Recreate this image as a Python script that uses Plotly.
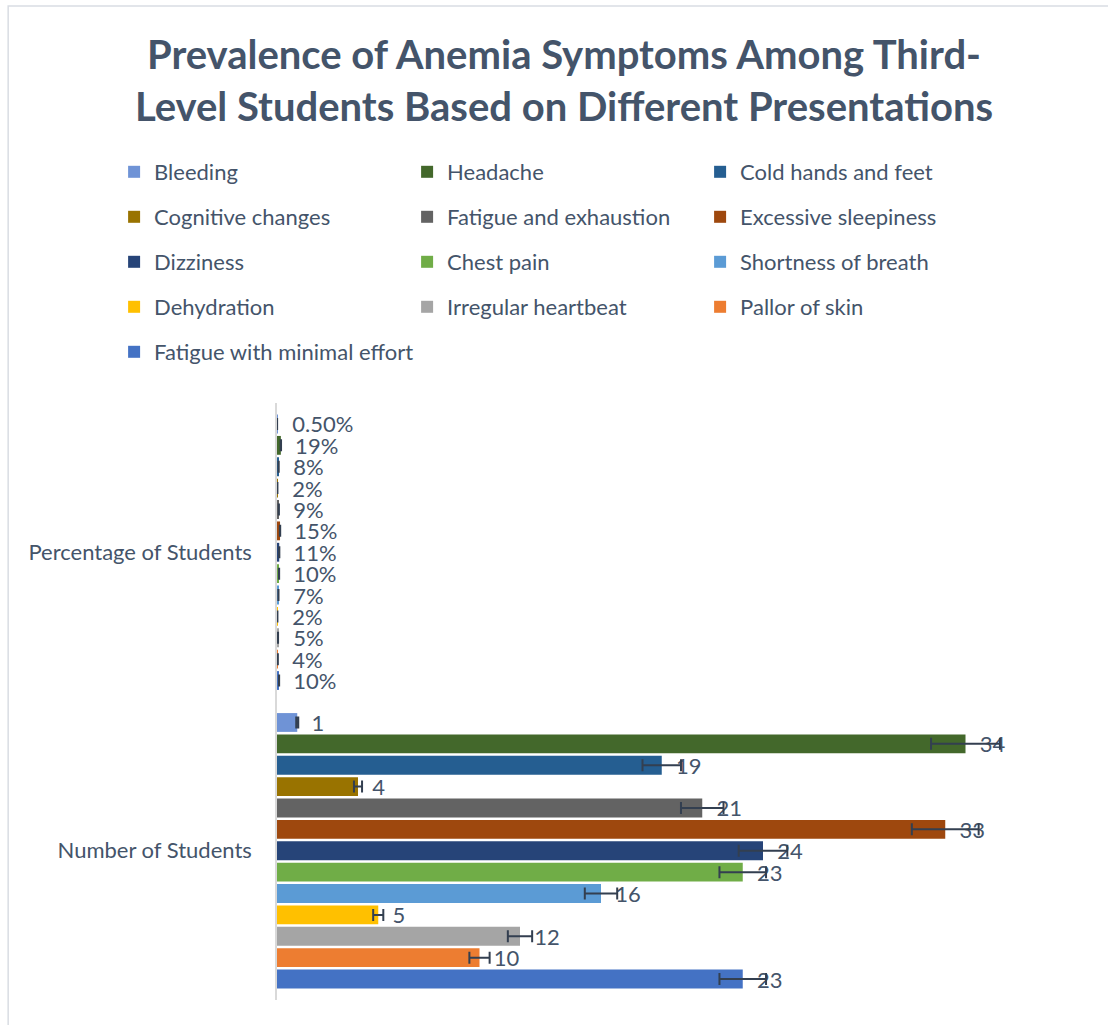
import plotly.graph_objects as go

# Symptom series, in legend order
symptoms = [
    "Bleeding", "Headache", "Cold hands and feet",
    "Cognitive changes", "Fatigue and exhaustion", "Excessive sleepiness",
    "Dizziness", "Chest pain", "Shortness of breath",
    "Dehydration", "Irregular heartbeat", "Pallor of skin",
    "Fatigue with minimal effort",
]
categories = ["Percentage of Students", "Number of Students"]
percentages = [0.005, 0.19, 0.08, 0.02, 0.09, 0.15, 0.11, 0.10, 0.07, 0.02, 0.05, 0.04, 0.10]
counts = [1, 34, 19, 4, 21, 33, 24, 23, 16, 5, 12, 10, 23]
colors = [
    "#6F93D6", "#43682B", "#255E91",
    "#997300", "#636363", "#9E480E",
    "#264478", "#70AD47", "#5B9BD5",
    "#FFC000", "#A5A5A5", "#ED7D31",
    "#4472C4",
]

TEXT = "#44546A"
FONT = "Lato"
FS = 22

W, H = 1108, 1025
L, R, T, B = 277, 20.5, 403, 25
pw, ph = W - L - R, H - T - B


def px_x(x):
    return (x - L) / pw


def px_y(y):
    return (H - B - y) / ph


def fmt_pct(v):
    p = v * 100
    return f"{p:.0f}%" if abs(p - round(p)) < 1e-9 else f"{p:.2f}%"


pad = "\u00a0\u00a0"
fig = go.Figure()
for i, (name, pct, cnt, col) in enumerate(zip(symptoms, percentages, counts, colors)):
    row = i // 3
    fig.add_trace(go.Bar(
        name=name,
        orientation="h",
        y=categories,
        x=[pct, cnt],
        text=[fmt_pct(pct), str(cnt)],
        texttemplate=pad + "%{text}",
        textposition="outside",
        constraintext="none",
        cliponaxis=False,
        textfont=dict(family=FONT, size=FS, color=TEXT),
        marker=dict(color=col, line=dict(width=0)),
        error_x=dict(type="percent", value=5, color="#333F50", thickness=2, width=6),
        legend="legend" if row == 0 else f"legend{row + 1}",
        hoverinfo="skip",
    ))

row_centers = [172, 217, 262, 307, 352]
legend_common = dict(
    orientation="h",
    xanchor="left",
    yanchor="middle",
    entrywidthmode="pixels",
    font=dict(family=FONT, size=FS, color=TEXT),
    bgcolor="rgba(0,0,0,0)",
    borderwidth=0,
    itemclick=False,
    itemdoubleclick=False,
)
legends = {}
for r, yc in enumerate(row_centers):
    key = "legend" if r == 0 else f"legend{r + 1}"
    # the last row holds a single, longer entry
    ew = 248 if r < len(row_centers) - 1 else 400
    legends[key] = dict(legend_common, entrywidth=ew, x=px_x(114), y=px_y(yc))

fig.update_layout(
    width=W,
    height=H,
    margin=dict(l=L, r=R, t=T, b=B, autoexpand=False),
    paper_bgcolor="white",
    plot_bgcolor="white",
    barmode="group",
    bargap=0.069,
    bargroupgap=0.12,
    title=dict(
        text="<b>Prevalence of Anemia Symptoms Among Third-<br>Level Students Based on Different Presentations</b>",
        font=dict(family=FONT, size=40, color=TEXT),
        x=564 / W,
        xanchor="center",
        xref="container",
        y=1 - 69 / H,
        yanchor="top",
        yref="container",
    ),
    xaxis=dict(range=[0, 40], visible=False, fixedrange=True),
    yaxis=dict(
        autorange="reversed",
        showline=True,
        linecolor="#D9D9D9",
        linewidth=1.5,
        ticks="",
        ticklabelstandoff=19,
        tickfont=dict(family=FONT, size=FS, color=TEXT),
        showgrid=False,
        fixedrange=True,
    ),
    showlegend=True,
    shapes=[dict(
        type="rect", xref="paper", yref="paper",
        x0=px_x(8), x1=px_x(W + 20), y0=px_y(H + 20), y1=px_y(6),
        line=dict(color="#D9DDE3", width=1.5), fillcolor="rgba(0,0,0,0)",
        layer="below",
    )],
    **legends,
)

fig.write_html("out.html")
